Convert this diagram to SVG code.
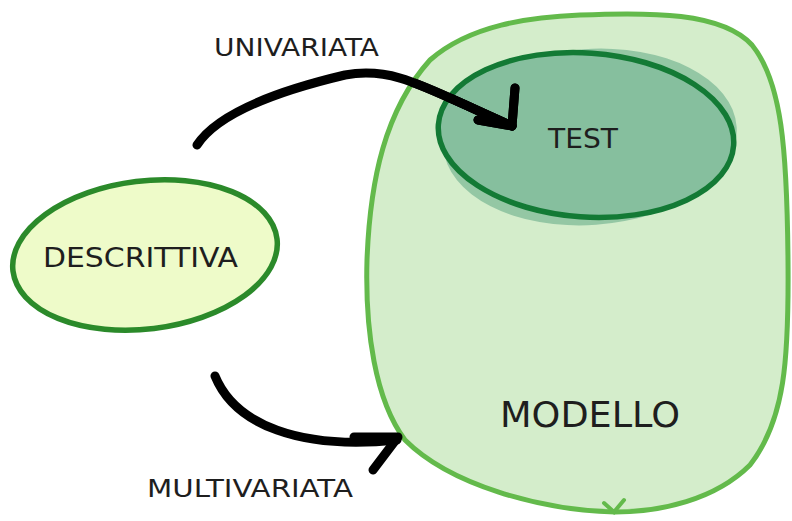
<svg xmlns="http://www.w3.org/2000/svg" width="792" height="521" viewBox="0 0 792 521">
<defs>
<style>
.lbl{font-family:"DejaVu Sans","Liberation Sans",sans-serif;fill:#1e1e1e;}
.arrow{fill:none;stroke:#000;stroke-width:9;stroke-linecap:round;stroke-linejoin:round;}
</style>
<clipPath id="testClip"><ellipse cx="586" cy="135" rx="148" ry="82" transform="rotate(4 586 135)"/></clipPath>
<clipPath id="blobClip"><path d="M580 15 C650 12 722 12 752 45 C782 82 787 150 788 260 C789 360 785 420 750 465 C715 500 660 512 615 512 C540 510 450 485 405 440 C375 400 365 330 367 260 C370 180 385 110 430 60 C470 25 530 17 580 15 Z"/></clipPath>
</defs>
<rect width="792" height="521" fill="#fff"/>
<g id="modello">
<path d="M580 15 C650 12 722 12 752 45 C782 82 787 150 788 260 C789 360 785 420 750 465 C715 500 660 512 615 512 C540 510 450 485 405 440 C375 400 365 330 367 260 C370 180 385 110 430 60 C470 25 530 17 580 15 Z" fill="#d4edcb" stroke="#63ba4b" stroke-width="5"/>
<path d="M604 503 L614 512 L624 500" fill="none" stroke="#63ba4b" stroke-width="4" stroke-linecap="round"/>
<text class="lbl" x="500" y="427" font-size="35" textLength="180" lengthAdjust="spacingAndGlyphs">MODELLO</text>
</g>
<g id="test">
<ellipse cx="590" cy="137" rx="147" ry="88" transform="rotate(-4 590 137)" fill="#88c09e" opacity="0.85"/>
<ellipse cx="586" cy="135" rx="148" ry="82" transform="rotate(4 586 135)" fill="#86bf9e" stroke="#137a35" stroke-width="5.5"/>
<text class="lbl" x="548" y="148" font-size="26" textLength="70" lengthAdjust="spacingAndGlyphs">TEST</text>
</g>
<g id="descrittiva">
<ellipse cx="145" cy="255" rx="133" ry="74" transform="rotate(-7 145 255)" fill="#eefbc9" stroke="#2b8a2a" stroke-width="5.5"/>
<text class="lbl" x="43" y="267" font-size="27" textLength="195" lengthAdjust="spacingAndGlyphs">DESCRITTIVA</text>
</g>
<g id="connectors">
<path class="arrow" d="M197 145 C220 110 290 88 345 75 C395 66 425 88 512 126"/>
<path class="arrow" d="M515 88 L512 126 L478 120"/>
<g clip-path="url(#blobClip)">
<path class="arrow" stroke="#1b2a1b" d="M197 145 C220 110 290 88 345 75 C395 66 425 88 512 126"/>
</g>
<g clip-path="url(#testClip)">
<path class="arrow" stroke="#0c3b1c" d="M197 145 C220 110 290 88 345 75 C395 66 425 88 512 126"/>
<path class="arrow" stroke="#0c3b1c" d="M515 88 L512 126 L478 120"/>
</g>
<path class="arrow" d="M215 376 C235 425 300 450 397 440"/>
<path class="arrow" d="M354 437 L398 437 L373 470"/>
<text class="lbl" x="214" y="56" font-size="24" textLength="165" lengthAdjust="spacingAndGlyphs">UNIVARIATA</text>
<text class="lbl" x="147" y="497" font-size="24" textLength="206" lengthAdjust="spacingAndGlyphs">MULTIVARIATA</text>
</g>
</svg>
